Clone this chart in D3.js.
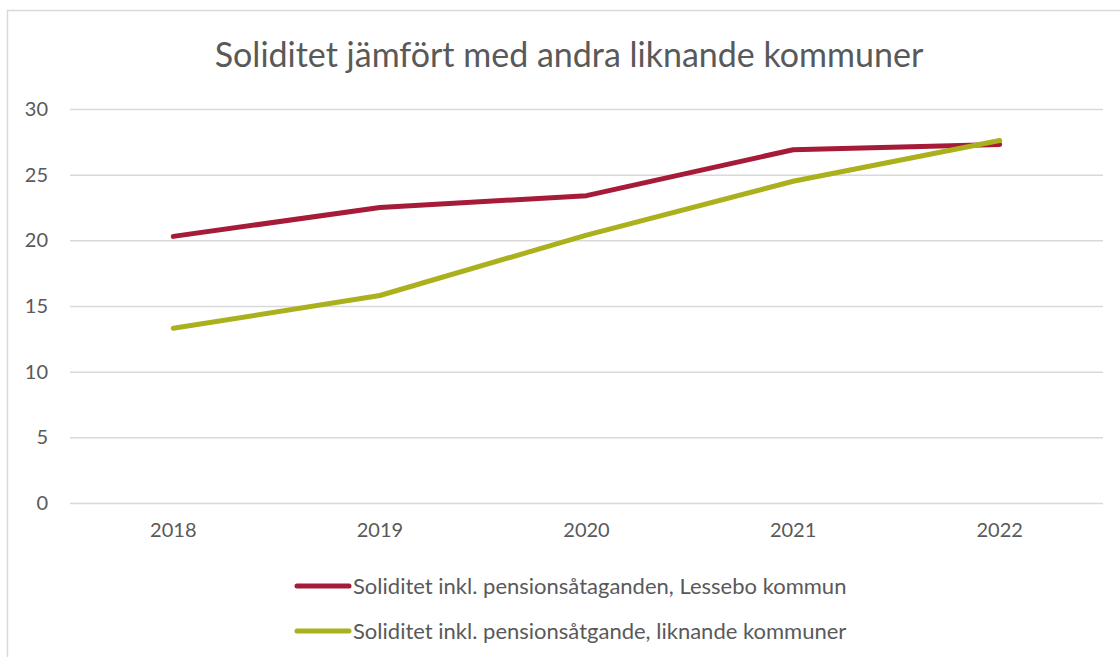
<!DOCTYPE html>
<html lang="sv">
<head>
<meta charset="UTF-8">
<title>Soliditet jämfört med andra liknande kommuner</title>
<script src="https://d3js.org/d3.v7.min.js"></script>
<style>
    body { margin: 0; background: #fff; font-family: Lato, "Open Sans", sans-serif; }
    svg { display: block; }
</style>
</head>
<body>
<div id="chart"></div>
<script>
    // data
    const years = ["2018", "2019", "2020", "2021", "2022"];
    const lessebo = [20.3, 22.5, 23.4, 26.9, 27.3];
    const liknande = [13.3, 15.8, 20.4, 24.5, 27.6];
    const yTicks = [0, 5, 10, 15, 20, 25, 30];
    const seriesNames = [
        "Soliditet inkl. pensionsåtaganden, Lessebo kommun",
        "Soliditet inkl. pensionsåtgande, liknande kommuner"
    ];
    const seriesColors = ["#a51b38", "#aab11d"];

    const W = 1120, H = 657;
    const margin = {top: 109, right: 17, bottom: 154, left: 70};
    const width = W - margin.left - margin.right;
    const height = H - margin.top - margin.bottom;
    const font = "Lato, 'Open Sans', sans-serif";

    const svg = d3.select("#chart").append("svg")
        .attr("width", W)
        .attr("height", H);

    // outer frame
    svg.append("rect")
        .attr("x", 7.5).attr("y", 10.5)
        .attr("width", 1130).attr("height", 700)
        .attr("fill", "#fff")
        .attr("stroke", "#d9d9d9")
        .attr("stroke-width", 1.5);

    svg.append("text")
        .attr("x", 569).attr("y", 67)
        .attr("text-anchor", "middle")
        .attr("fill", "#595959")
        .style("font-family", font)
        .style("font-size", "34px")
        .text("Soliditet jämfört med andra liknande kommuner");

    const g = svg.append("g")
        .attr("transform", `translate(${margin.left},${margin.top})`);

    const x = d3.scaleBand().domain(years).range([0, width]);
    const y = d3.scaleLinear().domain([0, 30]).range([height, 0]);

    // grid
    const yAxis = g.append("g")
        .call(d3.axisLeft(y).tickValues(yTicks).tickSize(-width).tickPadding(22));
    yAxis.select(".domain").remove();
    yAxis.selectAll(".tick line").attr("stroke", "#d9d9d9").attr("stroke-width", 1.5);
    yAxis.selectAll(".tick text")
        .attr("fill", "#595959")
        .style("font-size", "20px")
        .style("font-family", font);

    const xAxis = g.append("g")
        .attr("transform", `translate(0,${height})`)
        .call(d3.axisBottom(x).tickSize(0).tickPadding(20));
    xAxis.select(".domain").remove();
    xAxis.selectAll(".tick text")
        .attr("fill", "#595959")
        .style("font-size", "20px")
        .style("font-family", font);

    const line = d3.line()
        .x((d, i) => x(years[i]) + x.bandwidth() / 2)
        .y(d => y(d));

    [lessebo, liknande].forEach((vals, i) => {
        g.append("path")
            .datum(vals)
            .attr("fill", "none")
            .attr("stroke", seriesColors[i])
            .attr("stroke-width", 5)
            .attr("stroke-linecap", "round")
            .attr("stroke-linejoin", "round")
            .attr("d", line);
    });

    // legend
    const legend = svg.append("g").attr("transform", "translate(297,586)");
    seriesNames.forEach((name, i) => {
        const row = legend.append("g").attr("transform", `translate(0,${i * 45})`);
        row.append("line")
            .attr("x1", 0).attr("x2", 52)
            .attr("stroke", seriesColors[i])
            .attr("stroke-width", 5)
            .attr("stroke-linecap", "round");
        row.append("text")
            .attr("x", 56).attr("y", 8)
            .attr("fill", "#595959")
            .style("font-family", font)
            .style("font-size", "22px")
            .text(name);
    });
</script>
</body>
</html>
